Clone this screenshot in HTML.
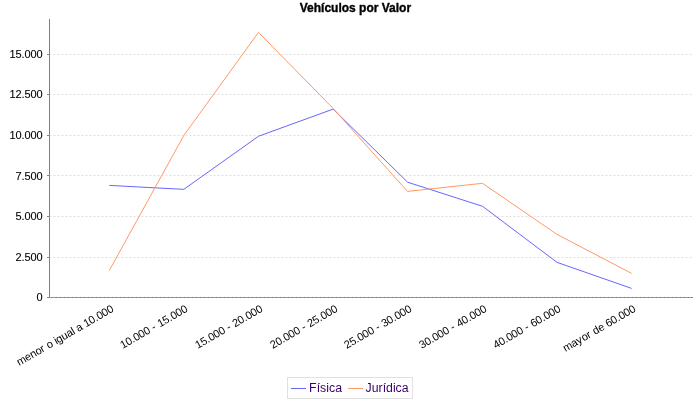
<!DOCTYPE html>
<html><head><meta charset="utf-8"><style>
html,body{margin:0;padding:0;background:#fff;}
svg{display:block;will-change:transform;}
text{font-family:"Liberation Sans",sans-serif;}
</style></head><body>
<svg width="700" height="400" viewBox="0 0 700 400">
<rect x="0" y="0" width="700" height="400" fill="#fff"/>
<!-- title -->
<text x="355.4" y="12" font-size="12" font-weight="bold" text-anchor="middle" fill="#000" stroke="#000" stroke-width="0.35">Vehículos por Valor</text>
<!-- axes -->
<g stroke="#808080" stroke-width="1" fill="none">
<line x1="49.5" y1="19" x2="49.5" y2="298"/>
<line x1="49" y1="297.5" x2="693" y2="297.5"/>
<line x1="47" y1="54.5" x2="49" y2="54.5"/>
<line x1="47" y1="94.5" x2="49" y2="94.5"/>
<line x1="47" y1="135.5" x2="49" y2="135.5"/>
<line x1="47" y1="175.5" x2="49" y2="175.5"/>
<line x1="47" y1="216.5" x2="49" y2="216.5"/>
<line x1="47" y1="257.5" x2="49" y2="257.5"/>
<line x1="47" y1="297.5" x2="49" y2="297.5"/>
</g>
<!-- gridlines -->
<g stroke="#c0c0c0" stroke-width="0.5" stroke-dasharray="2,2" fill="none">
<line x1="49.5" y1="54.5" x2="692" y2="54.5"/>
<line x1="49.5" y1="94.5" x2="692" y2="94.5"/>
<line x1="49.5" y1="135.5" x2="692" y2="135.5"/>
<line x1="49.5" y1="175.5" x2="692" y2="175.5"/>
<line x1="49.5" y1="216.5" x2="692" y2="216.5"/>
<line x1="49.5" y1="257.5" x2="692" y2="257.5"/>
</g>
<line x1="49.5" y1="297.5" x2="692" y2="297.5" stroke="#c0c0c0" stroke-width="0.5" stroke-dasharray="2,2"/>
<!-- y labels -->
<g font-size="11" fill="#000" stroke="#000" stroke-width="0.1">
<text x="9.5 15.5 21.5 24.5 30.5 36.5" y="58.3">15.000</text>
<text x="9.5 15.5 21.5 24.5 30.5 36.5" y="98.3">12.500</text>
<text x="9.5 15.5 21.5 24.5 30.5 36.5" y="139.3">10.000</text>
<text x="15.5 21.5 24.5 30.5 36.5" y="180.3">7.500</text>
<text x="15.5 21.5 24.5 30.5 36.5" y="220.3">5.000</text>
<text x="15.5 21.5 24.5 30.5 36.5" y="261.3">2.500</text>
<text x="36.5" y="301.3">0</text>
</g>
<!-- series -->
<polyline fill="none" stroke="#6666ff" stroke-width="1" stroke-linejoin="bevel"
 points="109.3,185.4 183.8,189.35 258.5,136.25 333.2,109.1 407.6,182.2 482.5,206.3 557.1,262.4 631.6,288.4"/>
<polyline fill="none" stroke="#ff9966" stroke-width="1" stroke-linejoin="bevel"
 points="109.3,270.5 183.9,135.3 258.5,32.4 333.2,108.5 407.5,191.4 482.5,183.3 556.9,234.3 631.6,273.4"/>
<!-- x labels -->
<g font-size="11" fill="#000">
<text transform="translate(114.5,311) rotate(-30)" x="-110 -101 -95 -89 -83 -79 -76 -70 -67 -65 -59 -53 -47 -45 -42 -36 -33 -27 -21 -18 -12 -6" y="0">menor o igual a 10.000</text>
<text transform="translate(188.5,311) rotate(-30)" x="-76 -70 -64 -61 -55 -49 -43 -40 -36 -33 -27 -21 -18 -12 -6" y="0">10.000 - 15.000</text>
<text transform="translate(263.5,311) rotate(-30)" x="-76 -70 -64 -61 -55 -49 -43 -40 -36 -33 -27 -21 -18 -12 -6" y="0">15.000 - 20.000</text>
<text transform="translate(338.5,311) rotate(-30)" x="-76 -70 -64 -61 -55 -49 -43 -40 -36 -33 -27 -21 -18 -12 -6" y="0">20.000 - 25.000</text>
<text transform="translate(412.5,311) rotate(-30)" x="-76 -70 -64 -61 -55 -49 -43 -40 -36 -33 -27 -21 -18 -12 -6" y="0">25.000 - 30.000</text>
<text transform="translate(487.5,311) rotate(-30)" x="-76 -70 -64 -61 -55 -49 -43 -40 -36 -33 -27 -21 -18 -12 -6" y="0">30.000 - 40.000</text>
<text transform="translate(561.5,311) rotate(-30)" x="-76 -70 -64 -61 -55 -49 -43 -40 -36 -33 -27 -21 -18 -12 -6" y="0">40.000 - 60.000</text>
<text transform="translate(636.5,311) rotate(-30)" x="-82 -73 -67 -61 -55 -51 -48 -42 -36 -33 -27 -21 -18 -12 -6" y="0">mayor de 60.000</text>
</g>
<!-- legend -->
<rect x="287.5" y="377.5" width="125" height="21" fill="#fff" stroke="#e0e0e0" stroke-width="1"/>
<line x1="291" y1="388.5" x2="306" y2="388.5" stroke="#6666ff" stroke-width="1"/>
<line x1="348" y1="388.5" x2="363" y2="388.5" stroke="#ff9966" stroke-width="1"/>
<g font-size="12" fill="#38006c">
<text x="309.1" y="392" textLength="33" lengthAdjust="spacingAndGlyphs">Física</text>
<text x="365.6" y="392" textLength="43" lengthAdjust="spacingAndGlyphs">Jurídica</text>
</g>
</svg>
</body></html>
